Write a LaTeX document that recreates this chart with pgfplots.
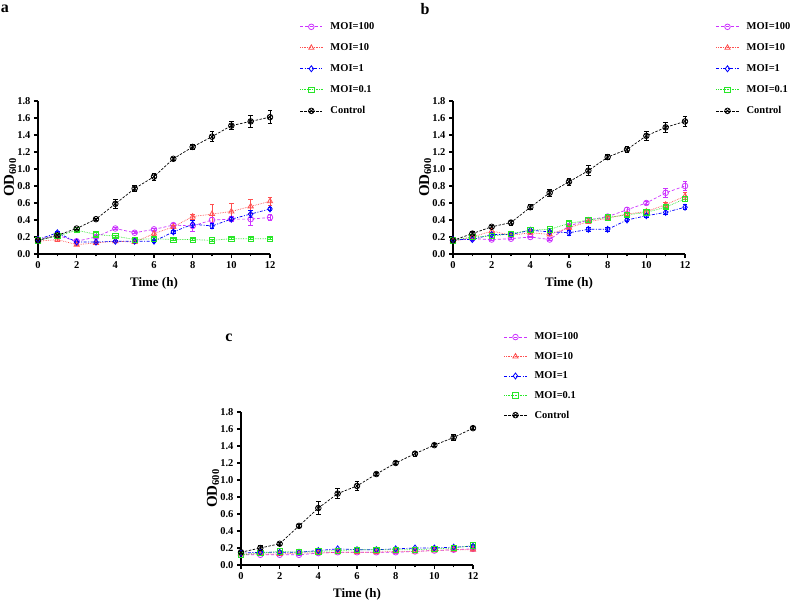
\documentclass[border=0pt]{standalone}
\usepackage{fontspec}
\setmainfont{Liberation Serif}
\usepackage{pgfplots}
\pgfplotsset{compat=1.18}

\definecolor{cpur}{RGB}{204,51,255}
\definecolor{cred}{RGB}{255,80,80}
\definecolor{cblu}{RGB}{0,0,255}
\definecolor{cgrn}{RGB}{40,230,40}

\pgfplotsset{
  growth/.style={
    scale only axis, width=232pt, height=153pt,
    xmin=0, xmax=12, ymin=0, ymax=1.8,
    xtick={0,2,...,12}, minor xtick={1,3,...,11},
    ytick={0,0.2,...,1.8},
    axis lines=left,
    axis line style={-, line width=1.3pt},
    tick style={line width=1.1pt, black},
    major tick length=4pt, minor tick length=2.5pt,
    tick align=outside,
    clip=false,
    /pgf/number format/assume math mode=true,
    yticklabel style={/pgf/number format/fixed, /pgf/number format/fixed zerofill, /pgf/number format/precision=1},
    ticklabel style={font=\fontsize{10.5}{12}\selectfont\bfseries},
    xlabel={Time (h)},
    ylabel={OD$_{\mathbf{600}}$},
    xlabel style={font=\fontsize{13}{15}\selectfont\bfseries, at={(axis description cs:0.5,-0.19)}, anchor=center},
    ylabel style={font=\fontsize{15}{17}\selectfont\bfseries, at={(axis description cs:-0.12,0.5)}, anchor=center},
    legend style={draw=none, fill=none, anchor=north west,
      font=\fontsize{10.5}{12}\selectfont\bfseries, row sep=8.5pt,
      legend cell align=left},
    legend image code/.code={
      \draw[mark repeat=2, mark phase=2] plot coordinates {(0cm,0cm) (0.39cm,0cm) (0.78cm,0cm)};
      \path[draw=none, fill=none] (0.78cm,0cm) -- ++(6pt,0pt);},
    error bars/y dir=both, error bars/y explicit,
    error bars/error bar style={solid, line width=0.9pt},
    error bars/error mark options={rotate=90, mark size=2.2pt, solid, line width=0.9pt},
  },
  s100/.style={cpur, line width=0.7pt, dash pattern=on 3pt off 2pt, mark=o, mark size=2.8pt, mark options={solid, line width=0.8pt}},
  s10/.style={cred, line width=0.7pt, densely dotted, mark=triangle, mark size=3pt, mark options={solid, line width=0.8pt}},
  s1/.style={cblu, line width=0.7pt, dash pattern=on 3pt off 1.5pt on 1pt off 1.5pt, mark=diamond, mark size=3pt, mark options={solid, line width=0.8pt}},
  s01/.style={cgrn, line width=0.7pt, densely dotted, mark=square, mark size=2.6pt, mark options={solid, line width=0.8pt}},
  sctl/.style={black, line width=0.7pt, dash pattern=on 2.5pt off 1.5pt, mark=otimes, mark size=2.8pt, mark options={solid, line width=0.8pt}},
}

\begin{document}
\begin{tikzpicture}[x=1pt, y=1pt]
\path[use as bounding box] (0,0) rectangle (792,602);

% panel a
\node[font=\fontsize{16}{18}\selectfont\bfseries] at (5,593) {a};
\begin{axis}[growth, at={(38pt,348pt)}, anchor=south west,
  legend style={at={(1.115,1.54)}}]
\addplot[s100] coordinates {(0,0.17)+-(0,0.01) (1,0.22)+-(0,0.02) (2,0.15)+-(0,0.02) (3,0.20)+-(0,0.02) (4,0.30)+-(0,0.01) (5,0.25)+-(0,0.01) (6,0.29)+-(0,0.01) (7,0.34)+-(0,0.02) (8,0.33)+-(0,0.06) (9,0.40)+-(0,0.03) (10,0.41)+-(0,0.03) (11,0.41)+-(0,0.07) (12,0.43)+-(0,0.03)};
\addlegendentry{MOI=100}
\addplot[s10] coordinates {(0,0.15)+-(0,0.01) (1,0.17)+-(0,0.02) (2,0.11)+-(0,0.01) (3,0.13)+-(0,0.01) (4,0.15)+-(0,0.01) (5,0.14)+-(0,0.01) (6,0.24)+-(0,0.02) (7,0.32)+-(0,0.02) (8,0.44)+-(0,0.03) (9,0.47)+-(0,0.11) (10,0.50)+-(0,0.09) (11,0.56)+-(0,0.08) (12,0.62)+-(0,0.05)};
\addlegendentry{MOI=10}
\addplot[s1] coordinates {(0,0.17)+-(0,0.01) (1,0.25)+-(0,0.01) (2,0.14)+-(0,0.01) (3,0.14)+-(0,0.01) (4,0.15)+-(0,0.01) (5,0.15)+-(0,0.01) (6,0.15)+-(0,0.01) (7,0.26)+-(0,0.02) (8,0.35)+-(0,0.04) (9,0.33)+-(0,0.03) (10,0.41)+-(0,0.02) (11,0.47)+-(0,0.04) (12,0.53)+-(0,0.02)};
\addlegendentry{MOI=1}
\addplot[s01] coordinates {(0,0.16)+-(0,0.01) (1,0.21)+-(0,0.01) (2,0.28)+-(0,0.01) (3,0.23)+-(0,0.02) (4,0.21)+-(0,0.01) (5,0.17)+-(0,0.01) (6,0.18)+-(0,0.01) (7,0.17)+-(0,0.01) (8,0.17)+-(0,0.01) (9,0.16)+-(0,0.01) (10,0.18)+-(0,0.01) (11,0.18)+-(0,0.01) (12,0.18)+-(0,0.01)};
\addlegendentry{MOI=0.1}
\addplot[sctl] coordinates {(0,0.16)+-(0,0.01) (1,0.22)+-(0,0.02) (2,0.30)+-(0,0.01) (3,0.41)+-(0,0.01) (4,0.59)+-(0,0.05) (5,0.77)+-(0,0.04) (6,0.91)+-(0,0.04) (7,1.12)+-(0,0.02) (8,1.26)+-(0,0.03) (9,1.38)+-(0,0.06) (10,1.51)+-(0,0.05) (11,1.56)+-(0,0.07) (12,1.61)+-(0,0.08)};
\addlegendentry{Control}
\end{axis}

% panel b
\node[font=\fontsize{16}{18}\selectfont\bfseries] at (425,593) {b};
\begin{axis}[growth, at={(453pt,348pt)}, anchor=south west,
  legend style={at={(1.12,1.54)}}]
\addplot[s100] coordinates {(0,0.16)+-(0,0.01) (1,0.18)+-(0,0.01) (2,0.17)+-(0,0.01) (3,0.18)+-(0,0.01) (4,0.20)+-(0,0.01) (5,0.17)+-(0,0.01) (6,0.33)+-(0,0.02) (7,0.40)+-(0,0.02) (8,0.44)+-(0,0.02) (9,0.52)+-(0,0.03) (10,0.60)+-(0,0.02) (11,0.72)+-(0,0.05) (12,0.80)+-(0,0.05)};
\addlegendentry{MOI=100}
\addplot[s10] coordinates {(0,0.15)+-(0,0.01) (1,0.20)+-(0,0.01) (2,0.27)+-(0,0.03) (3,0.22)+-(0,0.01) (4,0.25)+-(0,0.01) (5,0.23)+-(0,0.01) (6,0.31)+-(0,0.02) (7,0.38)+-(0,0.02) (8,0.42)+-(0,0.02) (9,0.47)+-(0,0.02) (10,0.50)+-(0,0.02) (11,0.58)+-(0,0.03) (12,0.68)+-(0,0.04)};
\addlegendentry{MOI=10}
\addplot[s1] coordinates {(0,0.17)+-(0,0.01) (1,0.17)+-(0,0.01) (2,0.23)+-(0,0.01) (3,0.23)+-(0,0.01) (4,0.28)+-(0,0.01) (5,0.26)+-(0,0.01) (6,0.25)+-(0,0.03) (7,0.29)+-(0,0.02) (8,0.29)+-(0,0.02) (9,0.40)+-(0,0.02) (10,0.45)+-(0,0.02) (11,0.49)+-(0,0.03) (12,0.55)+-(0,0.03)};
\addlegendentry{MOI=1}
\addplot[s01] coordinates {(0,0.16)+-(0,0.01) (1,0.20)+-(0,0.01) (2,0.21)+-(0,0.01) (3,0.24)+-(0,0.01) (4,0.28)+-(0,0.01) (5,0.29)+-(0,0.01) (6,0.36)+-(0,0.02) (7,0.40)+-(0,0.02) (8,0.43)+-(0,0.02) (9,0.46)+-(0,0.02) (10,0.49)+-(0,0.02) (11,0.55)+-(0,0.02) (12,0.65)+-(0,0.03)};
\addlegendentry{MOI=0.1}
\addplot[sctl] coordinates {(0,0.16)+-(0,0.02) (1,0.24)+-(0,0.02) (2,0.32)+-(0,0.02) (3,0.37)+-(0,0.03) (4,0.55)+-(0,0.03) (5,0.72)+-(0,0.04) (6,0.85)+-(0,0.04) (7,0.98)+-(0,0.06) (8,1.14)+-(0,0.03) (9,1.23)+-(0,0.03) (10,1.39)+-(0,0.05) (11,1.49)+-(0,0.06) (12,1.56)+-(0,0.06)};
\addlegendentry{Control}
\end{axis}

% panel c
\node[font=\fontsize{16}{18}\selectfont\bfseries] at (229,264) {c};
\begin{axis}[growth, at={(241pt,37pt)}, anchor=south west,
  legend style={at={(1.12,1.545)}, row sep=7pt}]
\addplot[s100] coordinates {(0,0.12)+-(0,0.01) (1,0.12)+-(0,0.01) (2,0.12)+-(0,0.01) (3,0.12)+-(0,0.01) (4,0.14)+-(0,0.01) (5,0.15)+-(0,0.01) (6,0.15)+-(0,0.01) (7,0.15)+-(0,0.01) (8,0.15)+-(0,0.01) (9,0.16)+-(0,0.01) (10,0.17)+-(0,0.01) (11,0.18)+-(0,0.02) (12,0.19)+-(0,0.02)};
\addlegendentry{MOI=100}
\addplot[s10] coordinates {(0,0.13)+-(0,0.01) (1,0.13)+-(0,0.01) (2,0.13)+-(0,0.01) (3,0.14)+-(0,0.01) (4,0.14)+-(0,0.01) (5,0.15)+-(0,0.01) (6,0.15)+-(0,0.01) (7,0.15)+-(0,0.01) (8,0.16)+-(0,0.01) (9,0.16)+-(0,0.01) (10,0.17)+-(0,0.01) (11,0.18)+-(0,0.01) (12,0.18)+-(0,0.01)};
\addlegendentry{MOI=10}
\addplot[s1] coordinates {(0,0.14)+-(0,0.01) (1,0.15)+-(0,0.01) (2,0.15)+-(0,0.01) (3,0.15)+-(0,0.01) (4,0.17)+-(0,0.01) (5,0.19)+-(0,0.01) (6,0.18)+-(0,0.01) (7,0.18)+-(0,0.01) (8,0.19)+-(0,0.01) (9,0.20)+-(0,0.01) (10,0.20)+-(0,0.01) (11,0.21)+-(0,0.01) (12,0.22)+-(0,0.01)};
\addlegendentry{MOI=1}
\addplot[s01] coordinates {(0,0.12)+-(0,0.01) (1,0.14)+-(0,0.01) (2,0.16)+-(0,0.01) (3,0.15)+-(0,0.01) (4,0.16)+-(0,0.01) (5,0.17)+-(0,0.01) (6,0.18)+-(0,0.01) (7,0.18)+-(0,0.01) (8,0.18)+-(0,0.01) (9,0.18)+-(0,0.01) (10,0.19)+-(0,0.01) (11,0.20)+-(0,0.01) (12,0.23)+-(0,0.01)};
\addlegendentry{MOI=0.1}
\addplot[sctl] coordinates {(0,0.15)+-(0,0.01) (1,0.20)+-(0,0.03) (2,0.25)+-(0,0.02) (3,0.46)+-(0,0.02) (4,0.67)+-(0,0.08) (5,0.84)+-(0,0.06) (6,0.93)+-(0,0.05) (7,1.07)+-(0,0.02) (8,1.20)+-(0,0.02) (9,1.31)+-(0,0.03) (10,1.41)+-(0,0.02) (11,1.50)+-(0,0.04) (12,1.61)+-(0,0.02)};
\addlegendentry{Control}
\end{axis}
\end{tikzpicture}
\end{document}
